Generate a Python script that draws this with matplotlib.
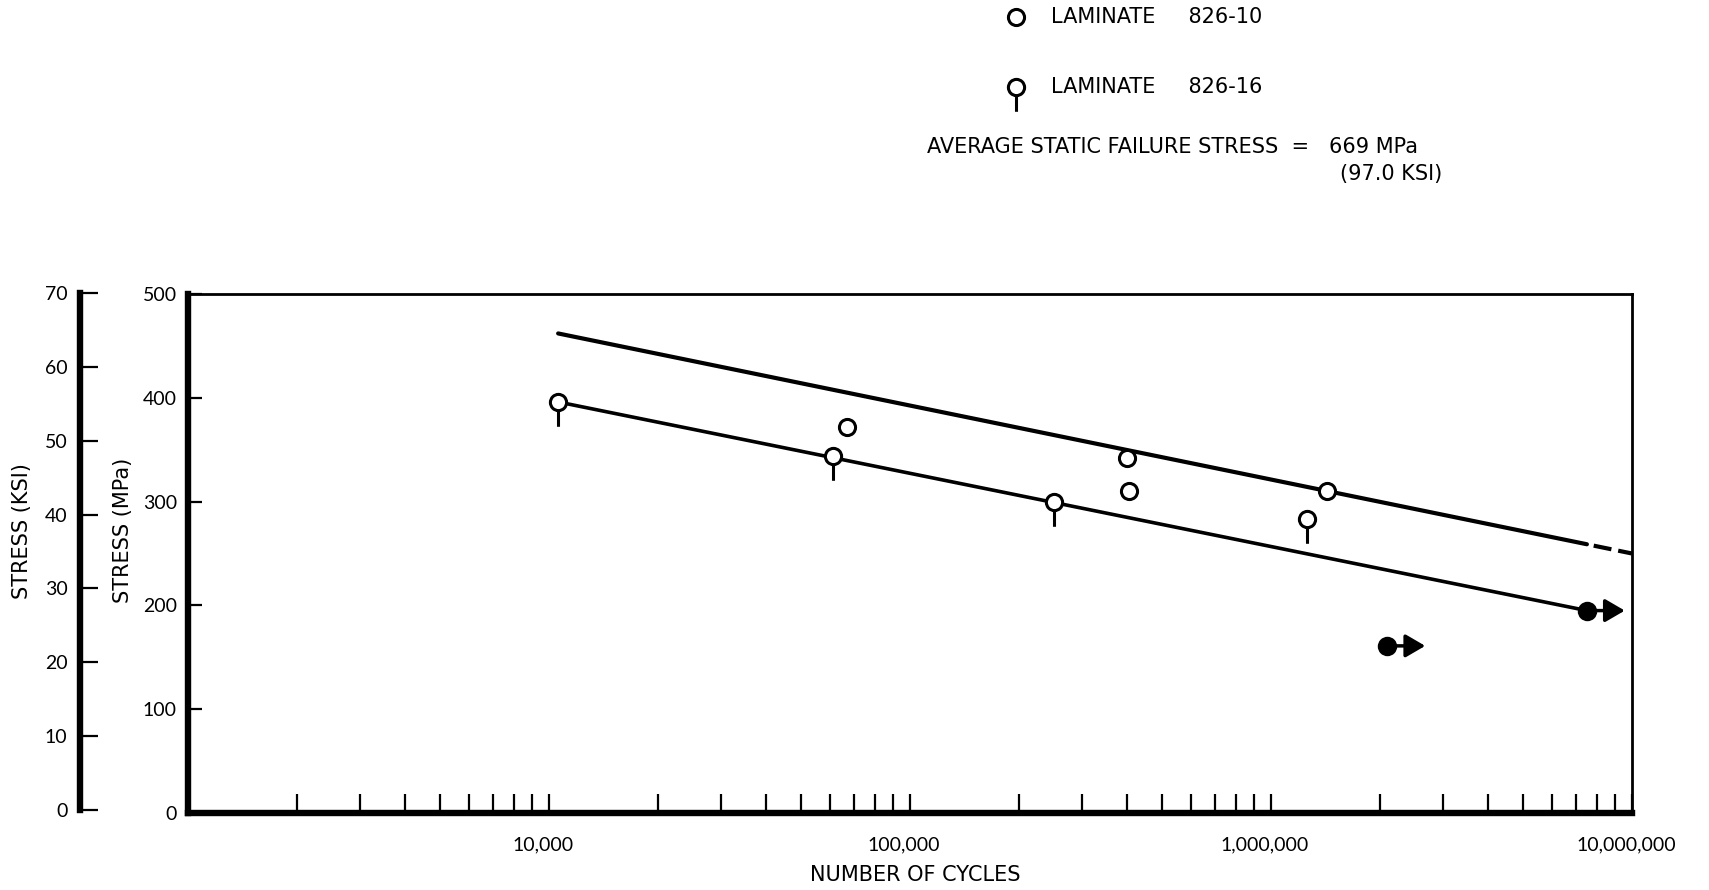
import numpy as np
import matplotlib
matplotlib.use('Agg')
import matplotlib.pyplot as plt
from matplotlib.path import Path
from matplotlib.lines import Line2D
from matplotlib.ticker import FixedLocator, LogLocator, NullFormatter
from matplotlib.transforms import ScaledTranslation

# fatigue results, maximum stress in MPa
pin_cycles = [10600, 61000, 250000, 1260000]      # laminate 826-16
pin_mpa = [396, 344, 300, 283]
open_cycles = [67000, 398000, 403000, 1430000]    # laminate 826-10
open_mpa = [372, 342, 310, 310]
runout_cycles = [2100000, 7500000]                # did not fail
runout_mpa = [161, 195]

# S-N curves (straight lines on semi-log paper)
upper_cycles = [10600, 1.0e7]
upper_mpa = [462, 250]
upper_solid_end = 7.5e6
lower_cycles = [10600, 7.5e6]
lower_mpa = [396, 195]

x_ticks = [1e4, 1e5, 1e6, 1e7]
x_tick_labels = ['10,000', '100,000', '1,000,000', '10,000,000']
mpa_ticks = [0, 100, 200, 300, 400, 500]
ksi_ticks = [0, 10, 20, 30, 40, 50, 60, 70]

key_labels = ['LAMINATE     826-10', 'LAMINATE     826-16']
static_note = 'AVERAGE STATIC FAILURE STRESS  =   669 MPa'
static_note_ksi = '(97.0 KSI)'

plt.rcParams['font.family'] = ['Lato', 'DejaVu Sans']
plt.rcParams['font.size'] = 14
plt.rcParams['lines.scale_dashes'] = False
LABEL_FONT = dict(family='DejaVu Sans', size=15)

W, H = 1709, 890


def pin_marker(stem=3.0):
    # open circle with a short tail hanging below it
    tail = Path([(0, -1), (0, -stem)], [Path.MOVETO, Path.LINETO])
    return Path.make_compound_path(Path.unit_circle(), tail)


PIN = pin_marker()
open_style = dict(ls='none', marker='o', ms=11.6, mfc='white', mec='black', mew=2.2)
pin_style = dict(ls='none', marker=PIN, ms=35, mfc='white', mec='black', mew=2.2)

fig = plt.figure(figsize=(W / 100, H / 100), dpi=100)
ax = fig.add_axes([188 / W, 77 / H, 1444 / W, 519 / H])

ax.set_xscale('log')
ax.set_xlim(1e3, 1e7)
ax.set_ylim(0, 500)

for side in ['left', 'bottom']:
    ax.spines[side].set_linewidth(4.6)
for side in ['top', 'right']:
    ax.spines[side].set_linewidth(2.0)

ax.xaxis.set_major_locator(FixedLocator(x_ticks))
ax.set_xticklabels(x_tick_labels)
ax.xaxis.set_minor_locator(LogLocator(base=10, subs=np.arange(2, 10)))
ax.xaxis.set_minor_formatter(NullFormatter())
ax.tick_params(axis='x', which='both', direction='in', length=14, width=1.6, pad=17)
ax.set_yticks(mpa_ticks)
ax.tick_params(axis='y', direction='in', length=10, width=1.6, pad=8)

shift = ScaledTranslation(-0.06, 0, fig.dpi_scale_trans)
for lbl in ax.get_xticklabels():
    lbl.set_transform(lbl.get_transform() + shift)

# fitted curves
lx = np.log10(upper_cycles)
y_break = np.interp(np.log10(upper_solid_end), lx, upper_mpa)
ax.plot([upper_cycles[0], upper_solid_end], [upper_mpa[0], y_break],
        color='black', lw=3.0, solid_capstyle='round', zorder=2)
ax.plot([upper_solid_end, upper_cycles[1]], [y_break, upper_mpa[1]],
        color='black', lw=3.0, ls=(13, (13, 5)), zorder=2)
ax.plot(lower_cycles, lower_mpa, color='black', lw=2.6, zorder=2)

# test points
ax.plot(open_cycles, open_mpa, zorder=4, **open_style)
ax.plot(pin_cycles, pin_mpa, zorder=4, **pin_style)

for n, s in zip(runout_cycles, runout_mpa):
    ax.annotate('', xy=(n * 10 ** 0.105, s), xytext=(n, s),
                arrowprops=dict(arrowstyle='-|>,head_length=0.6,head_width=0.35',
                                mutation_scale=20, lw=2.5, color='black',
                                shrinkA=0, shrinkB=0), zorder=3)
ax.plot(runout_cycles, runout_mpa, ls='none', marker='o', ms=14,
        mfc='black', mec='black', mew=0, zorder=5)

# second stress scale in ksi
ax_ksi = fig.add_axes([80 / W, 80 / H, 0.0005, 517 / H])
ax_ksi.set_facecolor('none')
for side in ['top', 'right', 'bottom']:
    ax_ksi.spines[side].set_visible(False)
ax_ksi.spines['left'].set_linewidth(4.6)
ax_ksi.set_ylim(0, 70)
ax_ksi.set_yticks(ksi_ticks)
ax_ksi.set_xticks([])
ax_ksi.tick_params(axis='y', direction='in', length=13, width=1.6, pad=9)

fig.text(22 / W, 1 - 531 / H, 'STRESS (KSI)', rotation=90, ha='center', va='center', **LABEL_FONT)
fig.text(123 / W, 1 - 530 / H, 'STRESS (MPa)', rotation=90, ha='center', va='center', **LABEL_FONT)
fig.text(915 / W, 1 - 875 / H, 'NUMBER OF CYCLES', ha='center', va='center', **LABEL_FONT)

# key above the chart
key_rows = [(17, open_style), (87, pin_style)]
for (row_y, style), label in zip(key_rows, key_labels):
    fig.add_artist(Line2D([1016 / W], [1 - row_y / H], transform=fig.transFigure, **style))
    fig.text(1051 / W, 1 - row_y / H, label, ha='left', va='center', **LABEL_FONT)
fig.text(927 / W, 1 - 147 / H, static_note, ha='left', va='center', **LABEL_FONT)
fig.text(1442 / W, 1 - 174 / H, static_note_ksi, ha='right', va='center', **LABEL_FONT)

fig.savefig('out.png', dpi=100, facecolor='white')
